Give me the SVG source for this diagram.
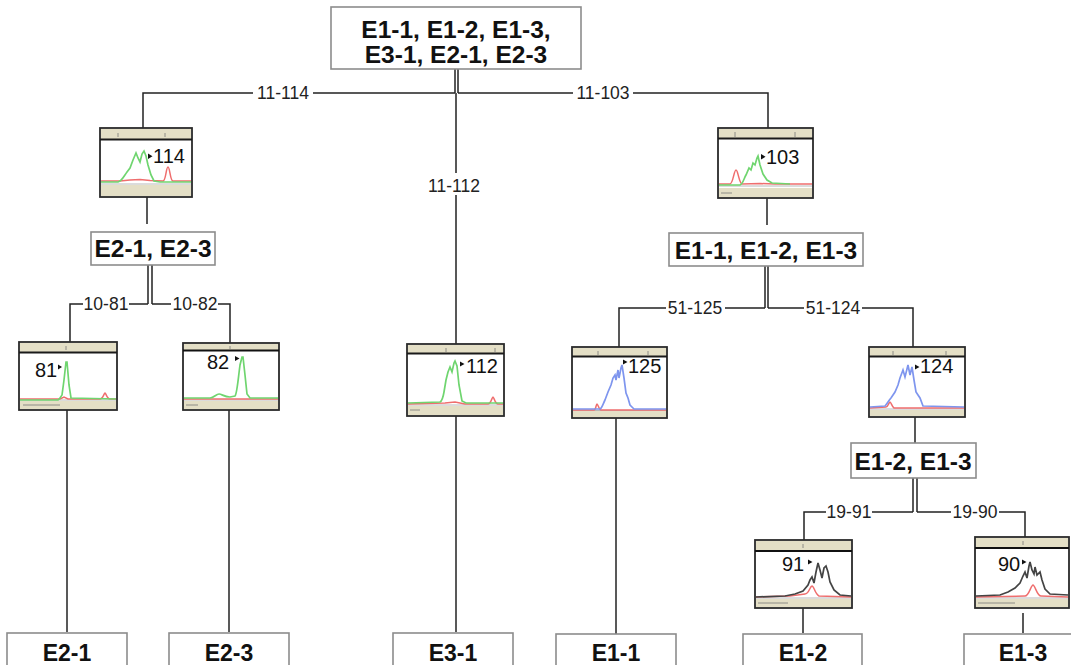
<svg xmlns="http://www.w3.org/2000/svg" width="1071" height="665" viewBox="0 0 1071 665">
<style>
.box{fill:#fff;stroke:#8c8c8c;stroke-width:1.6}
.bt{font-family:"Liberation Sans",Arial,sans-serif;font-weight:bold;font-size:24.5px;fill:#111;text-anchor:middle}
.bb{font-family:"Liberation Sans",Arial,sans-serif;font-weight:bold;font-size:23px;fill:#111;text-anchor:middle}
.lbl{font-family:"Liberation Sans",Arial,sans-serif;font-size:17.5px;fill:#222;text-anchor:middle}
.pk{font-family:"Liberation Sans",Arial,sans-serif;font-size:20px;fill:#111}
.ln{fill:none;stroke:#222;stroke-width:1.5}
.fr{fill:#fff;stroke:#2a2a2a;stroke-width:1.8}
.band{fill:#e4dfc6;stroke:none}
.hl{stroke:#1a1a1a;stroke-width:1.8}
.gb{fill:none;stroke:#b8b8b8;stroke-width:1}
.g{fill:none;stroke:#6fd56f;stroke-width:1.7}
.b{fill:none;stroke:#7e95ee;stroke-width:1.7}
.k{fill:none;stroke:#444;stroke-width:1.7}
.r{fill:none;stroke:#ef6e6e;stroke-width:1.5}
.tk{stroke:#777;stroke-width:0.8}
.tri{fill:#111}
</style>

<g id="connectors">
  <path class="ln" d="M455,69 V93 M458,69 V93"/>
  <path class="ln" d="M143,128 V93 H253 M313,93 H455"/>
  <path class="ln" d="M458,93 H573 M633,93 H768 V128"/>
  <path class="ln" d="M456,93 V173 M456,195 V344"/>
  <path class="ln" d="M147,197 V224"/>
  <path class="ln" d="M148,265 V304 M152,265 V304"/>
  <path class="ln" d="M70,342 V304 H83 M129,304 H148"/>
  <path class="ln" d="M152,304 H171 M218,304 H230 V343"/>
  <path class="ln" d="M67,410 V632"/>
  <path class="ln" d="M229,410 V632"/>
  <path class="ln" d="M456,416 V632"/>
  <path class="ln" d="M767,198 V225"/>
  <path class="ln" d="M765,266 V308 M768,266 V308"/>
  <path class="ln" d="M619,347 V308 H666 M725,308 H765"/>
  <path class="ln" d="M768,308 H804 M862,308 H913 V347"/>
  <path class="ln" d="M616,418 V634"/>
  <path class="ln" d="M915,417 V443"/>
  <path class="ln" d="M913,478 V512 M917,478 V512"/>
  <path class="ln" d="M804,540 V512 H826 M872,512 H913"/>
  <path class="ln" d="M917,512 H951 M999,512 H1025 V537"/>
  <path class="ln" d="M803,608 V633"/>
  <path class="ln" d="M1023,613 V633"/>
  <text class="lbl" x="283" y="99">11-114</text>
  <text class="lbl" x="603" y="99">11-103</text>
  <text class="lbl" x="454" y="192">11-112</text>
  <text class="lbl" x="106" y="310">10-81</text>
  <text class="lbl" x="195" y="310">10-82</text>
  <text class="lbl" x="695" y="314">51-125</text>
  <text class="lbl" x="833" y="314">51-124</text>
  <text class="lbl" x="849" y="518">19-91</text>
  <text class="lbl" x="975" y="518">19-90</text>
</g>

<g id="root">
  <rect class="box" x="331" y="7" width="250" height="62"/>
  <text class="bt" x="456" y="38">E1-1, E1-2, E1-3,</text>
  <text class="bt" x="456" y="63">E3-1, E2-1, E2-3</text>
</g>

<g id="n-e2">
  <rect class="box" x="91" y="232" width="124" height="33"/>
  <text class="bt" x="153" y="257">E2-1, E2-3</text>
</g>

<g id="n-e1">
  <rect class="box" x="669" y="233" width="194" height="33"/>
  <text class="bt" x="766" y="259">E1-1, E1-2, E1-3</text>
</g>

<g id="n-e12-13">
  <rect class="box" x="851" y="443" width="125" height="35"/>
  <text class="bt" x="913" y="470">E1-2, E1-3</text>
</g>

<g id="leaf-e2-1"><rect class="box" x="7" y="633" width="120" height="40"/><text class="bb" x="67" y="661">E2-1</text></g>
<g id="leaf-e2-3"><rect class="box" x="169" y="633" width="120" height="40"/><text class="bb" x="229" y="661">E2-3</text></g>
<g id="leaf-e3-1"><rect class="box" x="393" y="633" width="120" height="40"/><text class="bb" x="453" y="661">E3-1</text></g>
<g id="leaf-e1-1"><rect class="box" x="556" y="634" width="120" height="40"/><text class="bb" x="616" y="661">E1-1</text></g>
<g id="leaf-e1-2"><rect class="box" x="743" y="634" width="119" height="40"/><text class="bb" x="803" y="661">E1-2</text></g>
<g id="leaf-e1-3"><rect class="box" x="964" y="634" width="120" height="40"/><text class="bb" x="1023" y="661">E1-3</text></g>

<g id="c114">
  <rect class="fr" x="100" y="128" width="92" height="69"/>
  <rect class="band" x="101" y="129" width="90" height="10"/>
  <rect class="band" x="101" y="185" width="90" height="11"/>
  <line class="hl" x1="100" y1="139.5" x2="192" y2="139.5"/>
  <path class="tk" d="M118,133 V137 M165,133 V137"/>
  <line class="gb" x1="101" y1="184" x2="191" y2="184"/>
  <path class="r" d="M101,181 L120,181 L130,180 L140,179.5 L150,180.5 L163,181 C166,181 166,167 168,167 C170,167 170,181 173,181 L191,181"/>
  <path class="g" d="M101,182 L118,182 C122,181 124,176 127,172 L130,168 L133,160 L136,153 L138,158 L140,162 L142,154 L144,151 L146,156 L148,165 L151,175 L154,181 L160,182 L191,182"/>
  <polygon class="tri" points="148,153.5 148,159 152.5,156.3"/>
  <text class="pk" x="153" y="163">114</text>
</g>

<g id="c103">
  <rect class="fr" x="718" y="128" width="95" height="70"/>
  <rect class="band" x="719" y="129" width="93" height="9"/>
  <rect class="band" x="719" y="188" width="93" height="9"/>
  <line class="hl" x1="718" y1="138.5" x2="813" y2="138.5"/>
  <path class="tk" d="M735,132 V137 M795,132 V137 M721,193 H732"/>
  <line class="gb" x1="719" y1="186" x2="812" y2="186"/>
  <path class="r" d="M719,184 L730,184 C733,184 734,170 736,170 C738,170 739,183 742,184 L760,183.5 L775,184 L812,184"/>
  <path class="g" d="M719,185 L740,185 C743,184 744,178 746,175 L749,168 L751,170 L753,163 L755,165 L757,158 L758,156 L760,165 L763,174 L767,180 L772,183 L790,184"/>
  <polygon class="tri" points="761,154 761,159.5 765.5,156.7"/>
  <text class="pk" x="766" y="164">103</text>
</g>

<g id="c81">
  <rect class="fr" x="19" y="342" width="98" height="68"/>
  <rect class="band" x="20" y="343" width="96" height="9"/>
  <rect class="band" x="20" y="401" width="96" height="8"/>
  <line class="hl" x1="19" y1="352.5" x2="117" y2="352.5"/>
  <path class="tk" d="M66,346 V350 M23,405 H60"/>
  <line class="gb" x1="20" y1="400" x2="116" y2="400"/>
  <path class="r" d="M20,399 L60,399 L64,397 L68,399 L100,399 C103,399 104,393 105,393 C106,393 107,399 110,399 L116,399"/>
  <path class="g" d="M20,400 L58,400 C60,399 61,396 62,395 L64,380 L66,362 L67,362 L69,385 L71,398 L116,399"/>
  <polygon class="tri" points="58,364.5 58,369.5 62,367"/>
  <text class="pk" x="35" y="377">81</text>
</g>

<g id="c82">
  <rect class="fr" x="183" y="343" width="96" height="67"/>
  <rect class="band" x="184" y="344" width="94" height="6"/>
  <rect class="band" x="184" y="401" width="94" height="8"/>
  <line x1="183" y1="350.5" x2="279" y2="350.5" stroke="#111" stroke-width="2.2"/>
  <path class="tk" d="M230,346 V349 M186,405 H198"/>
  <line class="gb" x1="184" y1="400" x2="278" y2="400"/>
  <path class="r" d="M184,399 L278,399"/>
  <path class="g" d="M184,398 L210,398 C214,398 216,394 219,394 C222,394 224,397 230,397 L235,396 C237,394 238,380 240,365 L242,357 L243,357 L245,375 L247,394 L250,398 L278,398"/>
  <polygon class="tri" points="235,356 235,361 239.5,358.5"/>
  <text class="pk" x="207" y="369">82</text>
</g>

<g id="c112">
  <rect class="fr" x="407" y="344" width="97" height="72"/>
  <rect class="band" x="408" y="345" width="95" height="8"/>
  <rect class="band" x="408" y="406" width="95" height="9"/>
  <line class="hl" x1="407" y1="353.5" x2="504" y2="353.5"/>
  <path class="tk" d="M446,348 V352 M495,348 V352 M410,410 H420"/>
  <line class="gb" x1="408" y1="405" x2="503" y2="405"/>
  <path class="r" d="M408,404 L445,403 L455,402 L465,404 L488,404 C491,404 492,397 493,397 C494,397 495,404 498,404 L503,404"/>
  <path class="g" d="M408,403 L440,402 C442,401 443,398 444,392 L446,380 L448,372 L450,367 L452,372 L454,363 L455,361 L457,366 L459,385 L462,401 L466,403 L503,403"/>
  <polygon class="tri" points="460,361.5 460,366.5 464.5,364"/>
  <text class="pk" x="466" y="373">112</text>
</g>

<g id="c125">
  <rect class="fr" x="572" y="347" width="95" height="71"/>
  <rect class="band" x="573" y="348" width="93" height="8"/>
  <rect class="band" x="573" y="411" width="93" height="6"/>
  <line class="hl" x1="572" y1="356.5" x2="667" y2="356.5"/>
  <path class="tk" d="M598,351 V355 M648,351 V355"/>
  <line class="gb" x1="573" y1="410.5" x2="666" y2="410.5"/>
  <path class="r" d="M573,410 L594,410 C596,410 596,404 597,404 C598,404 599,410 601,410 L666,410"/>
  <path class="b" d="M573,409 L600,409 C602,408 603,404 605,400 L608,392 L611,385 L613,378 L615,375 L616,380 L618,370 L619,378 L621,368 L622,365 L624,378 L626,393 L628,398 L630,405 L634,409 L666,409"/>
  <polygon class="tri" points="623,359.5 623,364.5 627.5,362"/>
  <text class="pk" x="628" y="373">125</text>
</g>

<g id="c124">
  <rect class="fr" x="869" y="347" width="96" height="70"/>
  <rect class="band" x="870" y="348" width="94" height="8"/>
  <rect class="band" x="870" y="410" width="94" height="6"/>
  <line class="hl" x1="869" y1="356.5" x2="965" y2="356.5"/>
  <path class="tk" d="M893,351 V355 M946,351 V355"/>
  <line class="gb" x1="870" y1="409" x2="964" y2="409"/>
  <path class="r" d="M870,408 L886,407 C888,407 889,402 890,402 C891,402 892,407 894,408 L964,408"/>
  <path class="b" d="M870,407 L885,406 C887,404 889,400 891,398 L895,392 L898,385 L900,378 L903,370 L905,377 L908,365 L910,375 L912,367 L914,380 L916,392 L918,395 L920,398 L923,406 L964,407"/>
  <polygon class="tri" points="915,364.5 915,369.5 919.5,367"/>
  <text class="pk" x="920" y="373">124</text>
</g>

<g id="c91">
  <rect class="fr" x="755" y="540" width="97" height="68"/>
  <rect class="band" x="756" y="541" width="95" height="9"/>
  <rect class="band" x="756" y="599" width="95" height="8"/>
  <line x1="755" y1="551" x2="852" y2="551" stroke="#111" stroke-width="2.2"/>
  <path class="tk" d="M803,544 V548 M758,603 H788"/>
  <line class="gb" x1="756" y1="598" x2="851" y2="598"/>
  <path class="r" d="M756,597 L790,596 L805,594 C809,594 810,586 812,586 C814,586 815,594 819,596 L851,597"/>
  <path class="k" d="M756,597 L785,596 L795,594 L803,591 L808,585 L810,580 L812,577 L814,583 L816,572 L818,563 L820,570 L822,578 L824,568 L826,566 L828,572 L830,582 L834,590 L840,595 L851,596"/>
  <polygon class="tri" points="808,559.5 808,564.5 812.5,562"/>
  <text class="pk" x="782" y="571">91</text>
</g>

<g id="c90">
  <rect class="fr" x="975" y="537" width="94" height="71"/>
  <rect class="band" x="976" y="538" width="92" height="9"/>
  <rect class="band" x="976" y="599" width="92" height="8"/>
  <line x1="975" y1="548" x2="1069" y2="548" stroke="#111" stroke-width="2.2"/>
  <path class="tk" d="M1023,541 V545 M978,603 H1015"/>
  <line class="gb" x1="976" y1="598" x2="1068" y2="598"/>
  <path class="r" d="M976,597 L1025,596 C1029,596 1031,585 1033,585 C1035,585 1037,596 1041,596 L1068,597"/>
  <path class="k" d="M976,596 L1000,595 L1008,592 L1015,588 L1020,583 L1023,576 L1025,572 L1027,578 L1029,566 L1030,562 L1032,570 L1034,574 L1035,567 L1037,575 L1040,572 L1042,580 L1045,589 L1050,594 L1068,595"/>
  <polygon class="tri" points="1022,559.5 1022,564.5 1026.5,562"/>
  <text class="pk" x="998" y="571">90</text>
</g>
</svg>
